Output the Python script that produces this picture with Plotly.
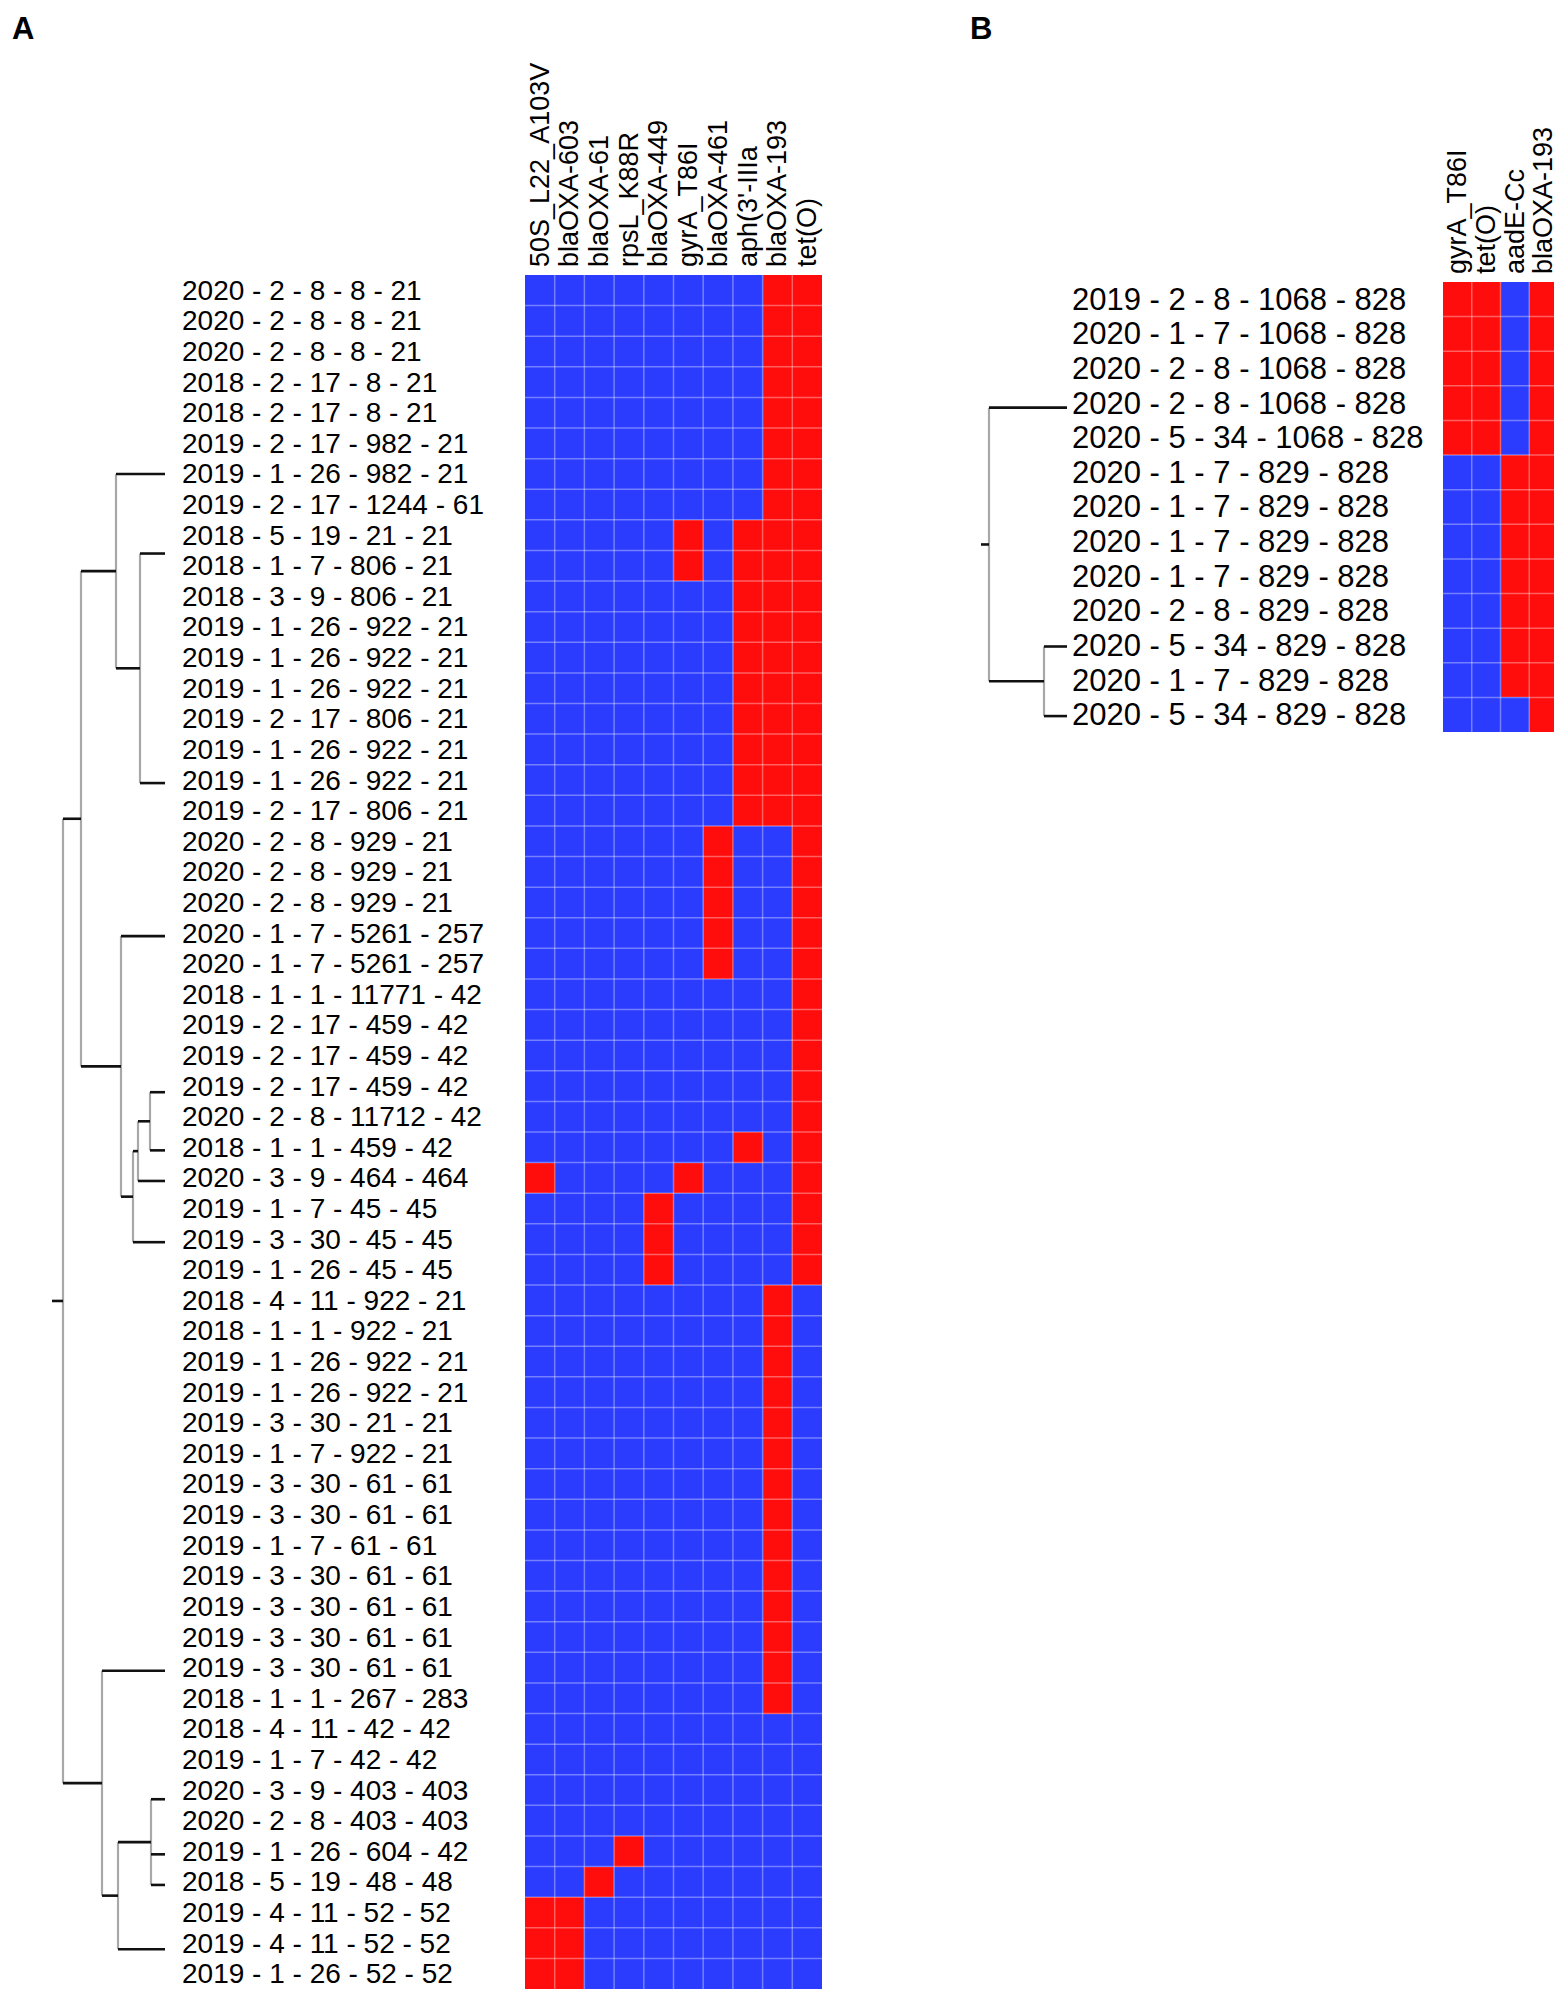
import plotly.graph_objects as go

W, H = 1562, 1996
BLUE = "#2b3cff"
RED = "#ff0d0d"
FONT = "Liberation Sans, Arial, Helvetica, sans-serif"

# ---------------- panel A data ----------------
genes_a = ["50S_L22_A103V", "blaOXA-603", "blaOXA-61", "rpsL_K88R", "blaOXA-449",
           "gyrA_T86I", "blaOXA-461", "aph(3'-IIIa", "blaOXA-193", "tet(O)"]

isolates_a = [
    "2020 - 2 - 8 - 8 - 21", "2020 - 2 - 8 - 8 - 21", "2020 - 2 - 8 - 8 - 21",
    "2018 - 2 - 17 - 8 - 21", "2018 - 2 - 17 - 8 - 21", "2019 - 2 - 17 - 982 - 21",
    "2019 - 1 - 26 - 982 - 21", "2019 - 2 - 17 - 1244 - 61", "2018 - 5 - 19 - 21 - 21",
    "2018 - 1 - 7 - 806 - 21", "2018 - 3 - 9 - 806 - 21", "2019 - 1 - 26 - 922 - 21",
    "2019 - 1 - 26 - 922 - 21", "2019 - 1 - 26 - 922 - 21", "2019 - 2 - 17 - 806 - 21",
    "2019 - 1 - 26 - 922 - 21", "2019 - 1 - 26 - 922 - 21", "2019 - 2 - 17 - 806 - 21",
    "2020 - 2 - 8 - 929 - 21", "2020 - 2 - 8 - 929 - 21", "2020 - 2 - 8 - 929 - 21",
    "2020 - 1 - 7 - 5261 - 257", "2020 - 1 - 7 - 5261 - 257", "2018 - 1 - 1 - 11771 - 42",
    "2019 - 2 - 17 - 459 - 42", "2019 - 2 - 17 - 459 - 42", "2019 - 2 - 17 - 459 - 42",
    "2020 - 2 - 8 - 11712 - 42", "2018 - 1 - 1 - 459 - 42", "2020 - 3 - 9 - 464 - 464",
    "2019 - 1 - 7 - 45 - 45", "2019 - 3 - 30 - 45 - 45", "2019 - 1 - 26 - 45 - 45",
    "2018 - 4 - 11 - 922 - 21", "2018 - 1 - 1 - 922 - 21", "2019 - 1 - 26 - 922 - 21",
    "2019 - 1 - 26 - 922 - 21", "2019 - 3 - 30 - 21 - 21", "2019 - 1 - 7 - 922 - 21",
    "2019 - 3 - 30 - 61 - 61", "2019 - 3 - 30 - 61 - 61", "2019 - 1 - 7 - 61 - 61",
    "2019 - 3 - 30 - 61 - 61", "2019 - 3 - 30 - 61 - 61", "2019 - 3 - 30 - 61 - 61",
    "2019 - 3 - 30 - 61 - 61", "2018 - 1 - 1 - 267 - 283", "2018 - 4 - 11 - 42 - 42",
    "2019 - 1 - 7 - 42 - 42", "2020 - 3 - 9 - 403 - 403", "2020 - 2 - 8 - 403 - 403",
    "2019 - 1 - 26 - 604 - 42", "2018 - 5 - 19 - 48 - 48", "2019 - 4 - 11 - 52 - 52",
    "2019 - 4 - 11 - 52 - 52", "2019 - 1 - 26 - 52 - 52",
]

# 1 = present (red), 0 = absent (blue)
presence_a = (
    [[0, 0, 0, 0, 0, 0, 0, 0, 1, 1]] * 8
    + [[0, 0, 0, 0, 0, 1, 0, 1, 1, 1]] * 2
    + [[0, 0, 0, 0, 0, 0, 0, 1, 1, 1]] * 8
    + [[0, 0, 0, 0, 0, 0, 1, 0, 0, 1]] * 5
    + [[0, 0, 0, 0, 0, 0, 0, 0, 0, 1]] * 5
    + [[0, 0, 0, 0, 0, 0, 0, 1, 0, 1]]
    + [[1, 0, 0, 0, 0, 1, 0, 0, 0, 1]]
    + [[0, 0, 0, 0, 1, 0, 0, 0, 0, 1]] * 3
    + [[0, 0, 0, 0, 0, 0, 0, 0, 1, 0]] * 14
    + [[0, 0, 0, 0, 0, 0, 0, 0, 0, 0]] * 4
    + [[0, 0, 0, 1, 0, 0, 0, 0, 0, 0]]
    + [[0, 0, 1, 0, 0, 0, 0, 0, 0, 0]]
    + [[1, 1, 0, 0, 0, 0, 0, 0, 0, 0]] * 3
)

# dendrogram A: node heights and children (float = leaf row position, str = node)
tree_a_names = ["a1", "a2", "a3", "a4", "a5", "a6", "a7", "b1", "b2", "b3", "root"]
tree_a_heights = [25, 49, 15, 27, 32, 44, 84, 14, 47, 63, 102]
tree_a_children = [
    [8.6, 16.1], [6.0, "a1"], [26.2, 28.1], ["a3", 29.1], ["a4", 31.1],
    [21.1, "a5"], ["a2", "a6"], [49.3, 51.1, 52.1], ["b1", 54.2],
    [45.1, "b2"], ["a7", "b3"],
]
root_stub_a = 113

# ---------------- panel B data ----------------
genes_b = ["gyrA_T86I", "tet(O)", "aadE-Cc", "blaOXA-193"]
isolates_b = [
    "2019 - 2 - 8 - 1068 - 828", "2020 - 1 - 7 - 1068 - 828", "2020 - 2 - 8 - 1068 - 828",
    "2020 - 2 - 8 - 1068 - 828", "2020 - 5 - 34 - 1068 - 828", "2020 - 1 - 7 - 829 - 828",
    "2020 - 1 - 7 - 829 - 828", "2020 - 1 - 7 - 829 - 828", "2020 - 1 - 7 - 829 - 828",
    "2020 - 2 - 8 - 829 - 828", "2020 - 5 - 34 - 829 - 828", "2020 - 1 - 7 - 829 - 828",
    "2020 - 5 - 34 - 829 - 828",
]
presence_b = [[1, 1, 0, 1]] * 5 + [[0, 0, 1, 1]] * 7 + [[0, 0, 0, 1]]

tree_b_names = ["c1", "root"]
tree_b_heights = [23, 78]
tree_b_children = [[10.03, 12.04], [3.13, "c1"]]
root_stub_b = 86


def dendro_segments(names, heights, children, stub):
    pos = {}
    hx, hy, vx, vy = [], [], [], []
    for name, h, kids in zip(names, heights, children):
        ys = []
        for k in kids:
            if isinstance(k, str):
                y = pos[k][1]
                hx += [h, pos[k][0], None]
            else:
                y = k
                hx += [h, 0, None]
            hy += [y, y, None]
            ys.append(y)
        vx += [h, h, None]
        vy += [min(ys), max(ys), None]
        pos[name] = (h, (min(ys) + max(ys)) / 2)
    h, y = pos[names[-1]]
    hx += [stub, h, None]
    hy += [y, y, None]
    return hx, hy, vx, vy


def px_x(v):
    return v / W


def px_y(v):
    return 1 - v / H


fig = go.Figure()

panels = [
    (genes_a, isolates_a, presence_a,
     (tree_a_names, tree_a_heights, tree_a_children), root_stub_a, ("x", "y", "x2")),
    (genes_b, isolates_b, presence_b,
     (tree_b_names, tree_b_heights, tree_b_children), root_stub_b, ("x3", "y3", "x4")),
]

shapes = []
annotations = []
for genes, isolates, presence, tree, stub, axes in panels:
    dx, yy, hx = axes
    sx, sy, vx, vy = dendro_segments(*tree, stub)
    fig.add_trace(go.Scatter(x=vx, y=vy, mode="lines", xaxis=dx, yaxis=yy,
                             line=dict(color="#a8a8a8", width=2.2), hoverinfo="skip",
                             showlegend=False))
    fig.add_trace(go.Scatter(x=sx, y=sy, mode="lines", xaxis=dx, yaxis=yy,
                             line=dict(color="#111111", width=2.6), hoverinfo="skip",
                             showlegend=False))
    fig.add_trace(go.Heatmap(
        z=presence, x=list(range(len(genes))), y=list(range(len(isolates))),
        colorscale=[[0, BLUE], [1, RED]], zmin=0, zmax=1, showscale=False,
        xaxis=hx, yaxis=yy, hoverinfo="skip",
    ))
    # light cell borders
    for j in range(1, len(genes)):
        shapes.append(dict(type="line", xref=hx, yref=yy, x0=j - 0.5, x1=j - 0.5,
                           y0=-0.5, y1=len(isolates) - 0.5,
                           line=dict(color="rgba(255,255,255,0.35)", width=1.5)))
    for i in range(1, len(isolates)):
        shapes.append(dict(type="line", xref=hx, yref=yy, x0=-0.5, x1=len(genes) - 0.5,
                           y0=i - 0.5, y1=i - 0.5,
                           line=dict(color="rgba(255,255,255,0.35)", width=1.5)))

for i, name in enumerate(isolates_a):
    annotations.append(dict(text=name, x=px_x(172), y=i, xref="paper", yref="y",
                            xanchor="left", yanchor="middle", showarrow=False,
                            font=dict(size=28, color="black", family=FONT)))
for i, name in enumerate(isolates_b):
    annotations.append(dict(text=name, x=px_x(1062), y=i, xref="paper", yref="y3",
                            xanchor="left", yanchor="middle", showarrow=False,
                            font=dict(size=31, color="black", family=FONT)))
for letter, x in [("A", 2), ("B", 960)]:
    annotations.append(dict(text="<b>" + letter + "</b>", x=px_x(x), y=px_y(1),
                            xref="paper", yref="paper", xanchor="left", yanchor="top",
                            showarrow=False, font=dict(size=31, color="black", family=FONT)))

hidden = dict(visible=False, showgrid=False, zeroline=False)
fig.update_layout(
    width=W, height=H,
    margin=dict(l=0, r=0, t=0, b=0),
    paper_bgcolor="white", plot_bgcolor="white",
    font=dict(family=FONT, color="black"),
    shapes=shapes, annotations=annotations,
    xaxis=dict(hidden, domain=[px_x(44), px_x(157)], range=[root_stub_a, 0]),
    yaxis=dict(hidden, domain=[px_y(1981), px_y(267)], range=[len(isolates_a) - 0.5, -0.5]),
    xaxis2=dict(domain=[px_x(517), px_x(814)], anchor="y", side="top",
                range=[-0.5, len(genes_a) - 0.5], tickvals=list(range(len(genes_a))),
                ticktext=genes_a, tickangle=-90, tickfont=dict(size=27, family=FONT),
                ticklabelstandoff=7,
                showgrid=False, zeroline=False, showline=False, ticks=""),
    xaxis3=dict(hidden, domain=[px_x(973), px_x(1059)], range=[root_stub_b, 0], anchor="y3"),
    yaxis3=dict(hidden, domain=[px_y(724), px_y(274)], range=[len(isolates_b) - 0.5, -0.5]),
    xaxis4=dict(domain=[px_x(1435), px_x(1550)], anchor="y3", side="top",
                range=[-0.5, len(genes_b) - 0.5], tickvals=list(range(len(genes_b))),
                ticktext=genes_b, tickangle=-90, tickfont=dict(size=27, family=FONT),
                ticklabelstandoff=7,
                showgrid=False, zeroline=False, showline=False, ticks=""),
)

fig.write_html("out.html")
